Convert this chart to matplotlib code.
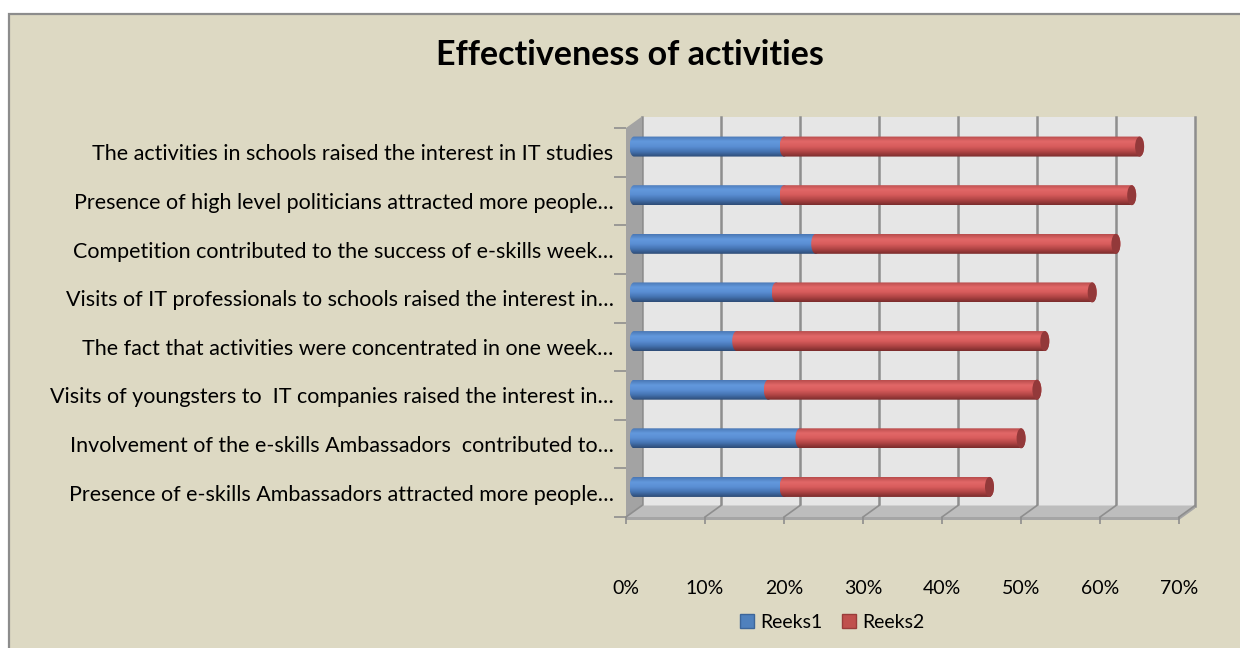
import numpy as np
import matplotlib
matplotlib.use("Agg")
import matplotlib.pyplot as plt
from matplotlib.patches import Rectangle, Polygon, Ellipse, Patch
from matplotlib.colors import LinearSegmentedColormap

plt.rcParams["font.family"] = ["Lato", "DejaVu Sans"]

# ---------- data (top to bottom) ----------
labels = [
    "The activities in schools raised the interest in IT studies",
    "Presence of high level politicians attracted more people…",
    "Competition contributed to the success of e-skills week…",
    "Visits of IT professionals to schools raised the interest in…",
    "The fact that activities were concentrated in one week…",
    "Visits of youngsters to  IT companies raised the interest in…",
    "Involvement of the e-skills Ambassadors  contributed to…",
    "Presence of e-skills Ambassadors attracted more people…",
]
reeks1 = [0.19, 0.19, 0.23, 0.18, 0.13, 0.17, 0.21, 0.19]
reeks2 = [0.45, 0.44, 0.38, 0.40, 0.39, 0.34, 0.28, 0.26]
series_names = ["Reeks1", "Reeks2"]
xticks = [0.0, 0.1, 0.2, 0.3, 0.4, 0.5, 0.6, 0.7]

cols = {
    "bg":     "#DDD9C3",
    "frame":  "#8C8C8C",
    "wall":   "#E6E6E6",
    "side":   "#A3A3A3",
    "floor":  "#BDBDBD",
    "face":   "#A5A5A5",
    "grid":   "#8E8E8E",
    "blue":   "#4F81BD",
    "red":    "#C0504D",
}
blue_cmap = LinearSegmentedColormap.from_list(
    "cyl_blue", ["#4A77B4", "#6399DD", "#5A8ED3", "#4472B0", "#2E4C76"])
red_cmap = LinearSegmentedColormap.from_list(
    "cyl_red", ["#B84C4C", "#E26868", "#D85C5C", "#B04545", "#7A2C2C"])

W, H = 1240, 648
fig = plt.figure(figsize=(W / 100, H / 100), dpi=100)
fig.patch.set_facecolor("white")
fig.add_artist(Rectangle((8.5 / W, -0.1), 1.2, 1 - 14.5 / H + 0.1,
                         transform=fig.transFigure, facecolor=cols["bg"],
                         edgecolor=cols["frame"], linewidth=1.6, zorder=-5))

# front plane of the 3-D box
x0, x1, yb, yt = 626, 1179, 517, 128
ax = fig.add_axes([x0 / W, (H - yb) / H, (x1 - x0) / W, (yb - yt) / H])
ax.set_facecolor("none")
for s in ax.spines.values():
    s.set_visible(False)

n = len(labels)
ypos = np.arange(n)[::-1]
XMAX = 0.7
px_x = XMAX / (x1 - x0)          # data units per pixel
px_y = n / (yb - yt)
DX, DY = 16 * px_x, 11.5 * px_y  # depth offset of back wall
lo, hi = -0.5, n - 0.5

# walls and floor
ax.add_patch(Rectangle((DX, lo + DY), XMAX, n, facecolor=cols["wall"],
                       edgecolor="none", clip_on=False, zorder=0))
ax.add_patch(Polygon([(0, lo), (0, hi), (DX, hi + DY), (DX, lo + DY)],
                     closed=True, facecolor=cols["side"], edgecolor="none",
                     clip_on=False, zorder=1))
ax.add_patch(Polygon([(0, lo), (XMAX, lo), (XMAX + DX, lo + DY), (DX, lo + DY)],
                     closed=True, facecolor=cols["floor"], edgecolor="none",
                     clip_on=False, zorder=1))
ax.add_patch(Rectangle((0, lo - 3 * px_y), XMAX, 3 * px_y,
                       facecolor=cols["face"], edgecolor="none",
                       clip_on=False, zorder=1))
ax.add_patch(Polygon([(XMAX, lo), (XMAX + DX, lo + DY), (XMAX + DX, lo + DY - 3 * px_y),
                      (XMAX, lo - 3 * px_y)], closed=True, facecolor=cols["face"],
                     edgecolor="none", clip_on=False, zorder=1))
for t in xticks:
    ax.plot([t + DX, t + DX], [lo + DY, hi + DY], color=cols["grid"],
            lw=1.8, clip_on=False, zorder=0.5)
    ax.plot([t, t + DX], [lo, lo + DY], color=cols["grid"], lw=1.2,
            clip_on=False, zorder=1.5)


# cylinders
def cylinder(left, width, yc, cmap, cap, h=20 * px_y, a=4.5 * px_x):
    th = np.linspace(np.pi / 2, 3 * np.pi / 2, 30)
    lx = left + a * np.cos(th)
    ly = yc + h / 2 * np.sin(th)
    rx = left + width - a * np.cos(th)
    ry = yc - h / 2 * np.sin(th)
    outline = np.column_stack([np.r_[lx, rx], np.r_[ly, ry]])
    clip = Polygon(outline, closed=True, transform=ax.transData,
                   facecolor="none", edgecolor="none")
    ax.add_patch(clip)
    grad = np.linspace(0, 1, 64).reshape(-1, 1)
    im = ax.imshow(grad, cmap=cmap, aspect="auto", origin="upper",
                   extent=(left - a, left + width + a, yc - h / 2, yc + h / 2),
                   interpolation="bilinear", zorder=3)
    im.set_clip_path(clip)
    if cap is not None:
        ax.add_patch(Ellipse((left + width, yc), 2 * a, h, facecolor=cap,
                             edgecolor="none", zorder=3.5))


for yi, v1, v2 in zip(ypos, reeks1, reeks2):
    yc = yi + DY / 2
    bx = DX / 2
    cylinder(bx, v1, yc, blue_cmap, None)
    cylinder(bx + v1, v2, yc, red_cmap, "#93393A")

ax.set_xlim(0, XMAX)
ax.set_ylim(lo, hi)

ax.set_xticks(xticks)
ax.set_xticklabels([f"{int(round(t * 100))}%" for t in xticks])
ax.tick_params(axis="x", length=5, width=1.2, color=cols["grid"],
               pad=40, labelsize=14)
ax.set_yticks(ypos)
ax.set_yticklabels(labels)
ax.set_yticks(np.arange(n + 1) - 0.5, minor=True)
ax.tick_params(axis="y", which="major", length=0, pad=9, labelsize=15.5)
ax.tick_params(axis="y", which="minor", length=9, width=1.2,
               color=cols["grid"])

fig.text(630 / W, 1 - 55 / H, "Effectiveness of activities",
         ha="center", va="center", fontsize=24.5, fontweight="bold")

handles = [Patch(facecolor=cols["blue"], edgecolor="#3C669A"),
           Patch(facecolor=cols["red"], edgecolor="#9A3C3A")]
fig.legend(handles, series_names, loc="center", ncol=2,
           bbox_to_anchor=(832 / W, 1 - 622 / H), frameon=False,
           fontsize=14, handlelength=0.75, handleheight=0.75,
           handletextpad=0.3, columnspacing=1.0)

fig.savefig("out.png", dpi=100)
